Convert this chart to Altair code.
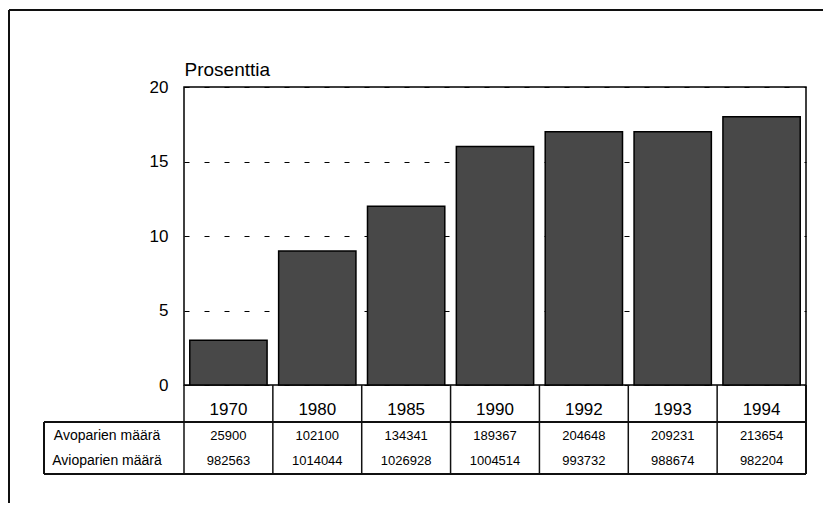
import altair as alt
import pandas as pd

# ---- data ----
years = ["1970", "1980", "1985", "1990", "1992", "1993", "1994"]
percent = [3, 9, 12, 16, 17, 17, 18]
avoparien = [25900, 102100, 134341, 189367, 204648, 209231, 213654]
avioparien = [982563, 1014044, 1026928, 1004514, 993732, 988674, 982204]
row_labels = ["Avoparien määrä", "Avioparien määrä"]
y_ticks = [0, 5, 10, 15, 20]
y_title = "Prosenttia"

FONT = "Liberation Sans, Arial, sans-serif"
W, H = 622, 298
ROW1, ROW2, ROWTOP, ROWBOT = 349, 374, 335, 387
LABX = -140
LINE = "#111111"

df = pd.DataFrame({
    "year": years,
    "pct": percent,
    "avo": [str(v) for v in avoparien],
    "avio": [str(v) for v in avioparien],
})
lab_df = pd.DataFrame({"label": row_labels, "row": [0, 1]})

x_axis = alt.Axis(
    title=None, ticks=False, domain=False, labelAngle=0,
    labelFont=FONT, labelFontSize=17, labelColor="black",
    labelPadding=24, labelBaseline="middle",
)
x_scale = alt.Scale(paddingInner=0, paddingOuter=0)


def xenc(**kw):
    return alt.X("year:N", sort=years, scale=x_scale, axis=x_axis, **kw)


base = alt.Chart(df)

bars = base.mark_bar(
    width=alt.RelativeBandSize(0.87), fill="#484848", stroke="black", strokeWidth=1.5
).encode(
    x=xenc(),
    y=alt.Y(
        "pct:Q",
        scale=alt.Scale(domain=[0, 20], nice=False),
        axis=alt.Axis(
            values=y_ticks, grid=True, gridDash=[5, 15], gridColor="black",
            gridWidth=1, ticks=False, domain=False,
            labelFont=FONT, labelFontSize=17, labelColor="black", labelPadding=16,
            title=y_title, titleAngle=0, titleAlign="left", titleBaseline="alphabetic",
            titleX=0, titleY=-12, titleFont=FONT, titleFontSize=19,
            titleFontWeight="normal", titleColor="black",
        ),
    ),
)

# table grid lines
seps = base.mark_rule(color=LINE, strokeWidth=1.5).encode(
    x=xenc(bandPosition=0), y=alt.value(H), y2=alt.value(ROWBOT)
)
right_edge = base.mark_rule(color=LINE, strokeWidth=1.5).encode(
    x=alt.value(W), y=alt.value(H), y2=alt.value(ROWBOT)
)
hlines_top = base.mark_rule(color=LINE, strokeWidth=1.5).encode(
    x=alt.value(LABX), x2=alt.value(W), y=alt.value(ROWTOP)
)
hlines_bot = base.mark_rule(color=LINE, strokeWidth=1.5).encode(
    x=alt.value(LABX), x2=alt.value(W), y=alt.value(ROWBOT)
)
left_border = base.mark_rule(color=LINE, strokeWidth=1.5).encode(
    x=alt.value(LABX), y=alt.value(ROWTOP), y2=alt.value(ROWBOT)
)
# outer frame
frame_left = base.mark_rule(color=LINE, strokeWidth=1.5).encode(
    x=alt.value(-175), y=alt.value(-77), y2=alt.value(440)
)
frame_top = base.mark_rule(color=LINE, strokeWidth=1.5).encode(
    x=alt.value(-175), x2=alt.value(660), y=alt.value(-77)
)

txt = dict(font=FONT, fontSize=13, color="black", baseline="middle", align="center")
t_avo = base.mark_text(**txt).encode(x=xenc(), y=alt.value(ROW1), text="avo:N")
t_avio = base.mark_text(**txt).encode(x=xenc(), y=alt.value(ROW2), text="avio:N")

lab1 = alt.Chart(lab_df).transform_filter("datum.row == 0").mark_text(
    font=FONT, fontSize=14, color="black", baseline="middle", align="center"
).encode(x=alt.value(-77), y=alt.value(ROW1), text="label:N")
lab2 = alt.Chart(lab_df).transform_filter("datum.row == 1").mark_text(
    font=FONT, fontSize=14, color="black", baseline="middle", align="center"
).encode(x=alt.value(-77), y=alt.value(ROW2), text="label:N")

chart = alt.layer(
    bars, seps, right_edge, hlines_top, hlines_bot, left_border,
    frame_left, frame_top, t_avo, t_avio, lab1, lab2,
).properties(
    width=W, height=H,
    autosize=alt.AutoSizeParams(type="none"),
    padding={"left": 176, "top": 79, "right": 17, "bottom": 118},
    background="white",
).configure_view(stroke="black", strokeWidth=1.5)

chart.save("out.html", embed_options={"renderer": "svg", "actions": False})
